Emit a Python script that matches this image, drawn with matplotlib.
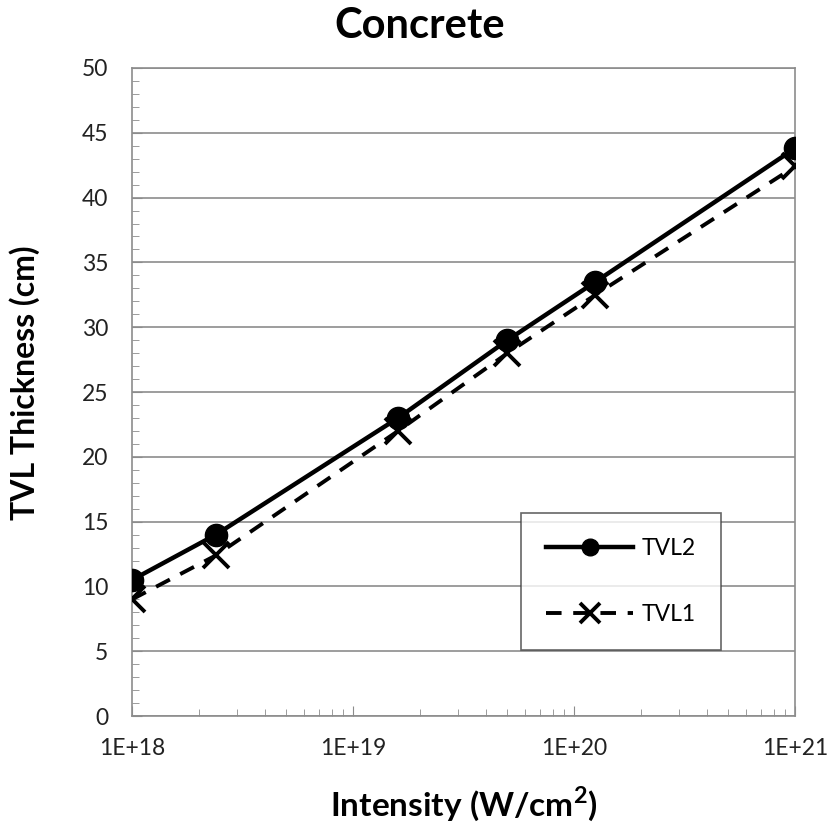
import matplotlib
matplotlib.use("Agg")
import matplotlib.pyplot as plt
from matplotlib.ticker import FixedLocator, LogLocator, MultipleLocator, NullFormatter

plt.rcParams['font.family'] = ['Lato', 'DejaVu Sans']

# Intensity values (W/cm2)
intensity = [1e18, 2.4e18, 1.6e19, 5e19, 1.25e20, 1e21]
# TVL thickness (cm)
tvl2 = [10.5, 14.0, 23.0, 29.0, 33.5, 43.8]
tvl1 = [9.0, 12.4, 22.0, 28.0, 32.5, 42.4]

xticks = [1e18, 1e19, 1e20, 1e21]
xticklabels = ['1E+18', '1E+19', '1E+20', '1E+21']

fig = plt.figure(figsize=(8.29, 8.24), dpi=100)
ax = fig.add_axes([0.1592, 0.131, 0.7998, 0.7865])

ax.plot(intensity, tvl2, color='black', lw=3.2, marker='o', ms=16, label='TVL2', zorder=3)
ax.plot(intensity, tvl1, color='black', lw=2.8, ls=(0, (4, 3)), marker='x', ms=19, mew=2.8,
        label='TVL1', zorder=3)

ax.set_xscale('log')
ax.set_xlim(1e18, 1e21)
ax.set_ylim(0, 50)

ax.xaxis.set_major_locator(FixedLocator(xticks))
ax.set_xticklabels(xticklabels)
ax.xaxis.set_minor_locator(LogLocator(base=10, subs=range(2, 10), numticks=20))
ax.xaxis.set_minor_formatter(NullFormatter())
ax.yaxis.set_major_locator(MultipleLocator(5))
ax.yaxis.set_minor_locator(MultipleLocator(1))

ax.grid(axis='y', which='major', color='#8c8c8c', lw=1.2)
ax.set_axisbelow(True)

for s in ax.spines.values():
    s.set_color('#8c8c8c')
    s.set_linewidth(1.2)

ax.tick_params(axis='both', which='major', direction='in', length=7, color='#8c8c8c',
               labelsize=16.5, labelcolor='#222222')
ax.tick_params(axis='both', which='minor', direction='in', length=5, color='#8c8c8c')
ax.tick_params(axis='y', which='major', pad=17)
ax.tick_params(axis='x', which='major', pad=16)

# title centred over the whole chart, not the plot area
fig.text(420 / 829, 1 - 38 / 824, 'Concrete', fontsize=30, fontweight='bold',
         ha='center', va='baseline')
ax.set_xlabel('Intensity (W/cm$^{\\mathregular{2}}$)', fontsize=24, fontweight='bold', labelpad=18)
ax.set_ylabel('TVL Thickness (cm)', fontsize=23, fontweight='bold')
ax.yaxis.set_label_coords(-0.139, 0.514)

leg = ax.legend(loc='lower right', bbox_to_anchor=(0.888, 0.102), fontsize=16.5,
                frameon=True, fancybox=False, borderpad=1.1, labelspacing=1.95,
                handlelength=3.8, handletextpad=0.35, borderaxespad=0, markerscale=0.75)
leg.get_frame().set_edgecolor('#404040')
leg.get_frame().set_linewidth(1.2)

fig.savefig('out.png', dpi=100)
